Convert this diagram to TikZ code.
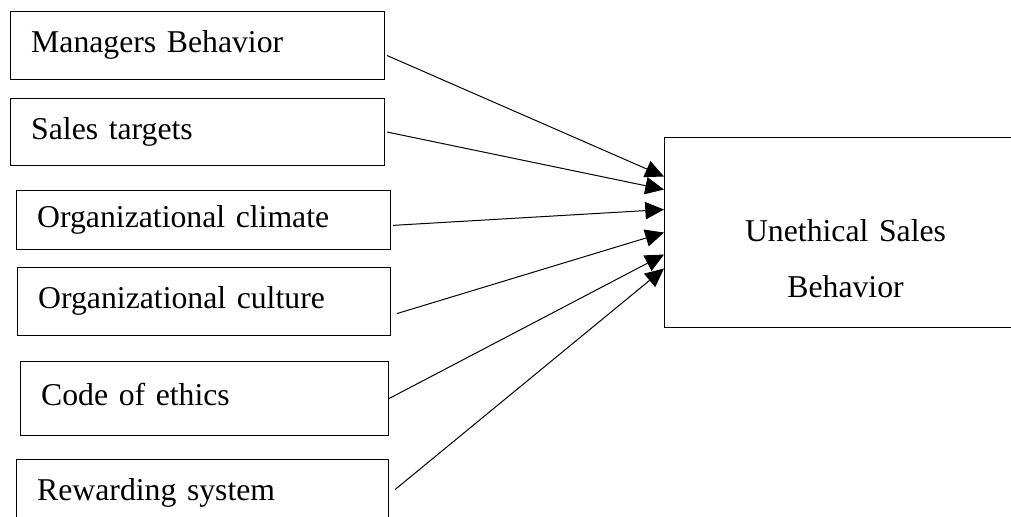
\documentclass[tikz,border=0pt]{standalone}
\usepackage{fontspec}
\setmainfont{Liberation Serif}
\usetikzlibrary{arrows.meta}

\begin{document}
\begin{tikzpicture}[%
      x=0.75pt, y=-0.75pt,
      factor/.style={draw, line width=0.8pt, anchor=north west, inner xsep=15.5pt, inner ysep=0pt, align=left,
        font=\fontsize{23.8}{28}\selectfont, text height=16.5pt, text depth=6pt},
      link/.style={line width=0.75pt, -{Triangle[length=14pt, width=13pt]}},
      ]
      \useasboundingbox (0,0) rectangle (1011,517);
      \clip (0,0) rectangle (1011,517);

      \node [factor, minimum width=280.5pt, minimum height=51pt, text width=249.5pt] (mgr) at (10,11) {Managers Behavior};
      \node [factor, minimum width=280.5pt, minimum height=50.25pt, text width=249.5pt] (target) at (10,98) {Sales targets};
      \node [factor, minimum width=280.5pt, minimum height=44.25pt, text width=249.5pt] (climate) at (16,190) {Organizational climate};
      \node [factor, minimum width=279.75pt, minimum height=51pt, text width=248.75pt] (culture) at (17,267) {Organizational culture};
      \node [factor, minimum width=276pt, minimum height=55.5pt, text width=245pt] (ethics) at (20,361) {Code of ethics};
      \node [factor, minimum width=279pt, minimum height=51pt, text width=248pt] (reward) at (16,459) {Rewarding system};

      \node [draw, line width=0.8pt, anchor=north west, minimum width=271.5pt, minimum height=142.5pt, inner sep=0pt,
        align=center, text width=250pt, font=\fontsize{23.8}{42}\selectfont, text height=55.5pt, text depth=42pt]
        (ush) at (664,137) {Unethical Sales\\Behavior};

      \draw [link] ([xshift=1.5pt, yshift=-7.5pt]mgr.east) -- ([yshift=42pt]ush.west);
      \draw [link] ([xshift=1.5pt]target.east) -- ([yshift=32.25pt]ush.west);
      \draw [link] ([xshift=1.5pt, yshift=-4pt]climate.east) -- ([yshift=17.25pt]ush.west);
      \draw [link] ([xshift=4.5pt, yshift=-9pt]culture.east) -- ([yshift=0pt]ush.west);
      \draw [link] (ethics.east) -- ([yshift=-16.5pt]ush.west);
      \draw [link] ([xshift=4.5pt, yshift=3pt]reward.east) -- ([yshift=-27pt]ush.west);
\end{tikzpicture}
\end{document}
